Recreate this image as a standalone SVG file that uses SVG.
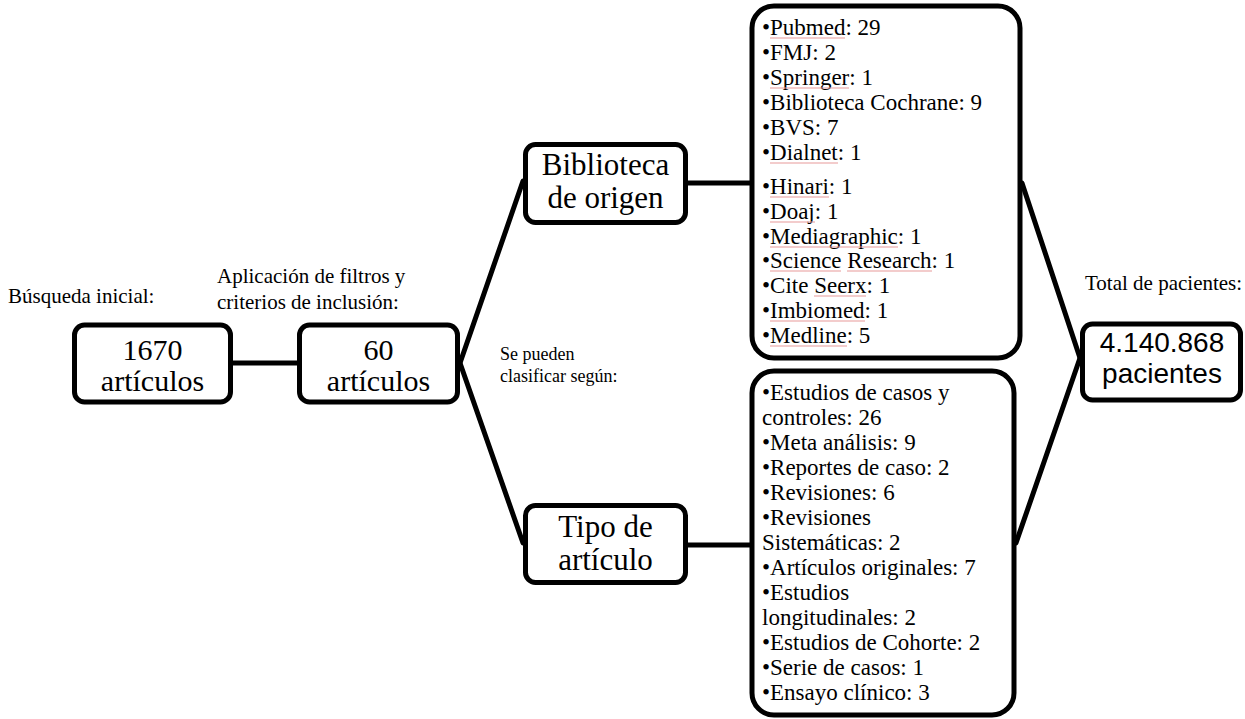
<svg xmlns="http://www.w3.org/2000/svg" width="1245" height="719" viewBox="0 0 1245 719">
<style>
.box{fill:#fff;stroke:#000;stroke-width:5}
.conn line{stroke:#000;stroke-width:5;stroke-linecap:round}
.t{font-family:"Liberation Serif","Times New Roman",serif;fill:#000}
.big{font-size:31px;text-anchor:middle}
.mid{font-size:30px;text-anchor:middle}
.lbl{font-size:21px}
.small{font-size:18px}
.list{font-size:23px}
.sans{font-family:"Liberation Sans",Arial,sans-serif;font-size:28px;text-anchor:middle;fill:#000}
.sp line{stroke:#e89a9a;stroke-width:1.2}
</style>
<rect width="1245" height="719" fill="#fff"/>
<g id="connectors" class="conn">
<line x1="232" y1="363" x2="297" y2="363"/>
<line x1="460" y1="363" x2="523" y2="181"/>
<line x1="460" y1="363" x2="523" y2="543"/>
<line x1="688" y1="183" x2="750" y2="183"/>
<line x1="688" y1="545" x2="750" y2="545"/>
<line x1="1022" y1="183" x2="1080" y2="358"/>
<line x1="1080" y1="358" x2="1016" y2="543"/>
</g>
<text class="t lbl" x="8" y="303">Búsqueda inicial:</text>
<text class="t lbl" x="217" y="283">Aplicación de filtros y</text>
<text class="t lbl" x="217" y="309">criterios de inclusión:</text>
<text class="t small" x="500" y="360">Se pueden</text>
<text class="t small" x="500" y="382">clasificar según:</text>
<text class="t lbl" x="1085" y="290">Total de pacientes:</text>
<g id="n1670">
<rect class="box" x="74.5" y="325" width="156" height="77" rx="10"/>
<text class="t mid" x="152.5" y="360">1670</text>
<text class="t mid" x="152.5" y="391">artículos</text>
</g>
<g id="n60">
<rect class="box" x="299.5" y="325" width="158" height="77" rx="10"/>
<text class="t mid" x="378.5" y="360">60</text>
<text class="t mid" x="378.5" y="391">artículos</text>
</g>
<g id="biblioteca">
<rect class="box" x="525.5" y="144.5" width="160" height="78" rx="10"/>
<text class="t big" x="605.5" y="175">Biblioteca</text>
<text class="t big" x="605.5" y="208">de origen</text>
</g>
<g id="tipo">
<rect class="box" x="525.5" y="505.5" width="160" height="77" rx="10"/>
<text class="t big" x="605.5" y="537">Tipo de</text>
<text class="t big" x="605.5" y="570">artículo</text>
</g>
<g id="lista-bibliotecas">
<rect class="box" x="752" y="6" width="268" height="352" rx="22"/>
<text class="t list">
<tspan x="762" y="35">•Pubmed: 29</tspan>
<tspan x="762" y="60">•FMJ: 2</tspan>
<tspan x="762" y="85">•Springer: 1</tspan>
<tspan x="762" y="110">•Biblioteca Cochrane: 9</tspan>
<tspan x="762" y="135">•BVS: 7</tspan>
<tspan x="762" y="160">•Dialnet: 1</tspan>
<tspan x="762" y="194">•Hinari: 1</tspan>
<tspan x="762" y="219">•Doaj: 1</tspan>
<tspan x="762" y="244">•Mediagraphic: 1</tspan>
<tspan x="762" y="268">•Science Research: 1</tspan>
<tspan x="762" y="293">•Cite Seerx: 1</tspan>
<tspan x="762" y="318">•Imbiomed: 1</tspan>
<tspan x="762" y="343">•Medline: 5</tspan>
</text>
<g class="sp">
<line x1="770" y1="38" x2="845" y2="38"/>
<line x1="770" y1="88" x2="849" y2="88"/>
<line x1="770" y1="163" x2="838" y2="163"/>
<line x1="770" y1="197" x2="829" y2="197"/>
<line x1="770" y1="222" x2="815" y2="222"/>
<line x1="770" y1="247" x2="898" y2="247"/>
<line x1="770" y1="271" x2="841" y2="271"/>
<line x1="847" y1="271" x2="932" y2="271"/>
<line x1="814" y1="296" x2="866" y2="296"/>
<line x1="770" y1="321" x2="865" y2="321"/>
<line x1="770" y1="346" x2="847" y2="346"/>
</g>
</g>
<g id="lista-tipos">
<rect class="box" x="752" y="371" width="262" height="344" rx="22"/>
<text class="t list">
<tspan x="762" y="400">•Estudios de casos y</tspan>
<tspan x="762" y="425">controles: 26</tspan>
<tspan x="762" y="450">•Meta análisis: 9</tspan>
<tspan x="762" y="475">•Reportes de caso: 2</tspan>
<tspan x="762" y="500">•Revisiones: 6</tspan>
<tspan x="762" y="525">•Revisiones</tspan>
<tspan x="762" y="550">Sistemáticas: 2</tspan>
<tspan x="762" y="575">•Artículos originales: 7</tspan>
<tspan x="762" y="600">•Estudios</tspan>
<tspan x="762" y="625">longitudinales: 2</tspan>
<tspan x="762" y="650">•Estudios de Cohorte: 2</tspan>
<tspan x="762" y="675">•Serie de casos: 1</tspan>
<tspan x="762" y="700">•Ensayo clínico: 3</tspan>
</text>
</g>
<g id="total">
<rect class="box" x="1082.5" y="324" width="158" height="76" rx="10"/>
<text class="sans" x="1162" y="352">4.140.868</text>
<text class="sans" x="1162" y="383">pacientes</text>
</g>
</svg>
